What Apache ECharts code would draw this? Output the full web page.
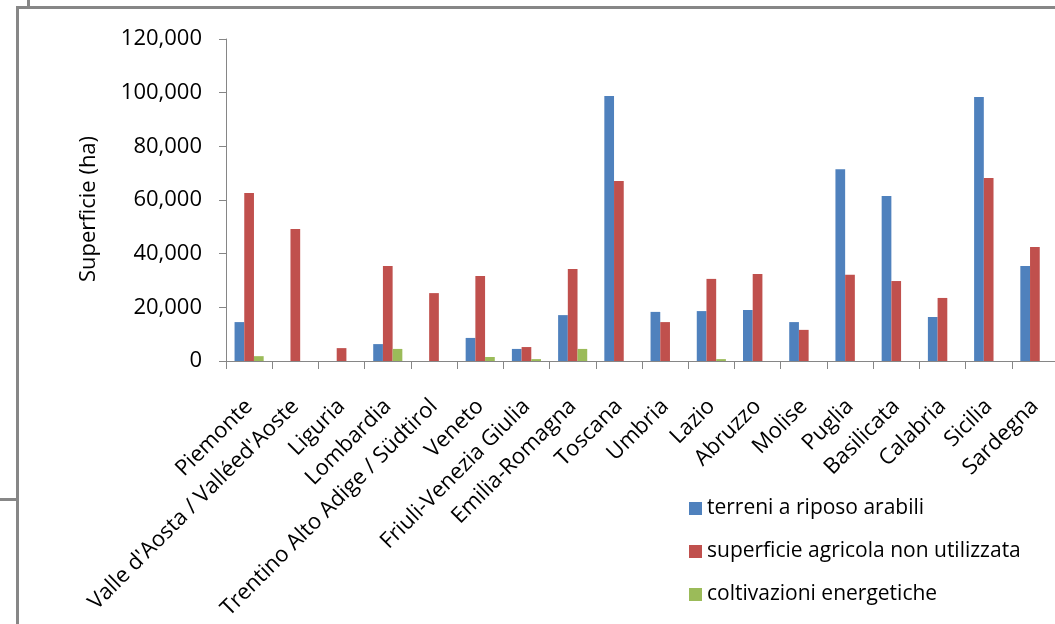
<!DOCTYPE html>
<html>
<head>
<meta charset="utf-8">
<script src="https://cdn.jsdelivr.net/npm/echarts@6/dist/echarts.min.js"></script>
<style>
  html, body { margin: 0; padding: 0; background: #fff; overflow: hidden; }
  #chart { width: 1055px; height: 624px; }
</style>
</head>
<body>
<div id="chart"></div>
<script>
// Regioni
const regions = [
  'Piemonte', "Valle d'Aosta / Valléed'Aoste", 'Liguria', 'Lombardia',
  'Trentino Alto Adige / Südtirol', 'Veneto', 'Friuli-Venezia Giulia',
  'Emilia-Romagna', 'Toscana', 'Umbria', 'Lazio', 'Abruzzo', 'Molise',
  'Puglia', 'Basilicata', 'Calabria', 'Sicilia', 'Sardegna'
];

// Superficie in ettari per tipologia
const terreniRiposo = [14500, 0, 0, 6300, 0, 8600, 4500, 17100, 98800, 18300, 18600, 19000, 14500, 71500, 61500, 16400, 98400, 35400];
const superficieNonUtilizzata = [62600, 49200, 4800, 35400, 25300, 31700, 5200, 34300, 67100, 14500, 30600, 32400, 11600, 32100, 29800, 23500, 68200, 42500];
const coltivazioniEnergetiche = [1800, 0, 0, 4500, 0, 1500, 700, 4500, 0, 0, 700, 0, 0, 0, 0, 0, 0, 0];

const seriesNames = ['terreni a riposo arabili', 'superficie agricola non utilizzata', 'coltivazioni energetiche'];
const seriesColors = ['#4F81BD', '#C0504D', '#9BBB59'];

const FONT = 'Open Sans';
const AXIS_GRAY = '#868686';
const FRAME_GRAY = '#878787';

const chart = echarts.init(document.getElementById('chart'), null, { renderer: 'canvas' });

function bar(name, data, color) {
  return {
    name: name,
    type: 'bar',
    data: data,
    barWidth: '21%',
    barGap: '0%',
    itemStyle: { color: color },
    emphasis: { disabled: true }
  };
}

chart.setOption({
  animation: false,
  backgroundColor: '#ffffff',
  textStyle: { fontFamily: FONT },
  grid: { left: 226, top: 39, width: 832, height: 322, containLabel: false, outerBoundsMode: 'none' },
  xAxis: {
    type: 'category',
    data: regions,
    axisLine: { lineStyle: { color: AXIS_GRAY, width: 1 } },
    axisTick: { show: true, length: 8, lineStyle: { color: AXIS_GRAY } },
    axisLabel: {
      interval: 0,
      rotate: 45,
      margin: 42,
      color: '#000',
      fontFamily: FONT,
      fontSize: 22
    },
    splitLine: { show: false }
  },
  yAxis: {
    type: 'value',
    min: 0,
    max: 120000,
    interval: 20000,
    name: 'Superficie (ha)',
    nameLocation: 'middle',
    nameRotate: 90,
    nameGap: 126,
    nameTextStyle: { color: '#000', fontFamily: FONT, fontSize: 22, padding: [0, 18, 0, 0] },
    axisLine: { show: true, lineStyle: { color: AXIS_GRAY, width: 1 } },
    axisTick: { show: true, length: 7, lineStyle: { color: AXIS_GRAY } },
    axisLabel: {
      margin: 24,
      color: '#000',
      fontFamily: FONT,
      fontSize: 22,
      formatter: v => v.toLocaleString('en-US')
    },
    splitLine: { show: false }
  },
  legend: {
    orient: 'vertical',
    left: 684,
    top: 493,
    itemWidth: 13,
    itemHeight: 13,
    itemGap: 22,
    icon: 'rect',
    textStyle: { color: '#000', fontFamily: FONT, fontSize: 21, lineHeight: 21 },
    data: seriesNames
  },
  series: [
    bar(seriesNames[0], terreniRiposo, seriesColors[0]),
    bar(seriesNames[1], superficieNonUtilizzata, seriesColors[1]),
    bar(seriesNames[2], coltivazioniEnergetiche, seriesColors[2])
  ],
  // frame lines around the chart area
  graphic: [
    { type: 'line', shape: { x1: 16, y1: 7.5, x2: 1055, y2: 7.5 }, style: { stroke: FRAME_GRAY, lineWidth: 3 }, silent: true },
    { type: 'line', shape: { x1: 17.5, y1: 6, x2: 17.5, y2: 624 }, style: { stroke: FRAME_GRAY, lineWidth: 3 }, silent: true },
    { type: 'line', shape: { x1: 28.5, y1: 0, x2: 28.5, y2: 7 }, style: { stroke: FRAME_GRAY, lineWidth: 3 }, silent: true },
    { type: 'line', shape: { x1: 0, y1: 499.5, x2: 17, y2: 499.5 }, style: { stroke: FRAME_GRAY, lineWidth: 3 }, silent: true }
  ]
});
</script>
</body>
</html>
